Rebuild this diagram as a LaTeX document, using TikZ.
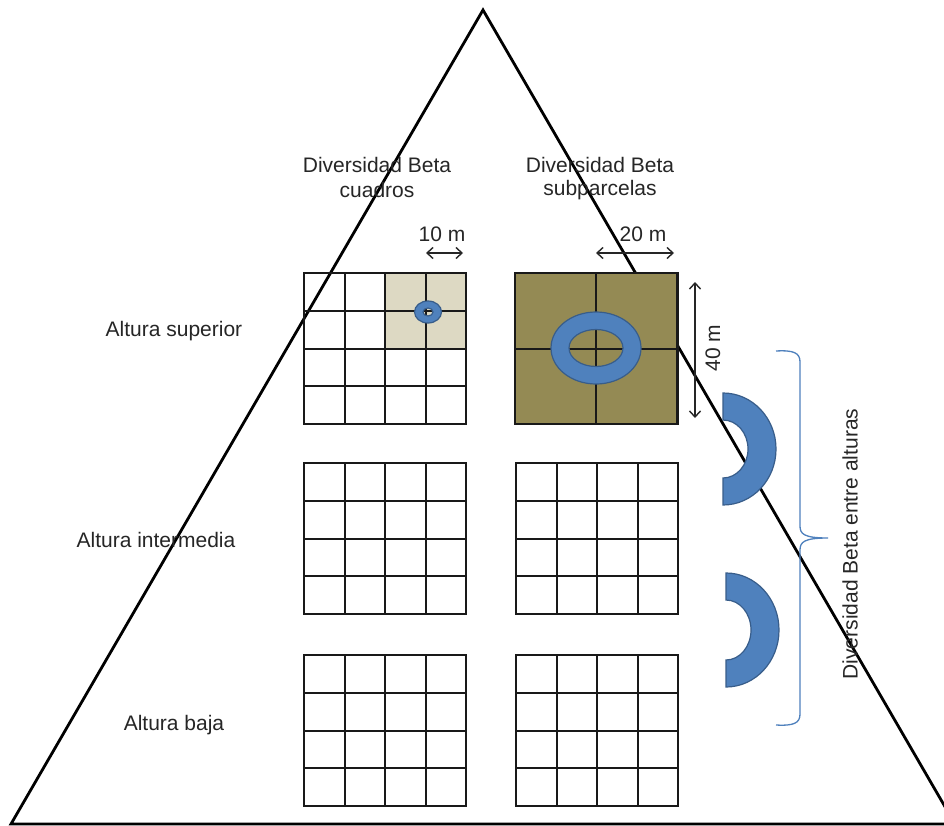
\documentclass[tikz,border=0pt]{standalone}
\usepackage{fontspec}
\setmainfont{Liberation Sans}
\usetikzlibrary{arrows.meta}
\definecolor{olive}{HTML}{948A54}
\definecolor{beige}{HTML}{DDD9C3}
\definecolor{ringblue}{HTML}{4F81BD}
\definecolor{ringedge}{HTML}{385D8A}
\tikzset{
  lbl/.style={font=\fontsize{21}{25}\selectfont, text=black!85, inner sep=0pt, align=center},
  gridline/.style={draw=black!90, line width=2},
  tri/.style={draw=black, line width=2.8, line join=miter},
  ring/.style={fill=ringblue, draw=ringedge, line width=1.2, even odd rule},
  dimarrow/.style={draw=black!85, line width=1.4, {Straight Barb[length=6pt,width=11pt]}-{Straight Barb[length=6pt,width=11pt]}},
  bracestyle/.style={draw=ringblue, line width=1.3}
}
\begin{document}
\begin{tikzpicture}[x=1pt,y=-1pt]
\clip (0,0) rectangle (944,826);
\fill[white] (0,0) rectangle (944,826);
% triangle
\draw[tri] (483,10) -- (11,824) -- (955,824) -- cycle;
% top-left grid with shaded quadrant
\fill[beige] (385,273) rectangle (466,348.5);
\foreach \y/\h in {273/424, 463/614, 655/806}{
  \draw[gridline] (304,\y) rectangle (466,\h);
  \draw[gridline] (516,\y) rectangle (678,\h);
}
% interior lines of 4x4 grids
\foreach \y/\h in {273/424, 463/614, 655/806}{
  \foreach \k in {1,2,3}{
    \draw[gridline] ({304+40.5*\k},\y) -- ({304+40.5*\k},\h);
    \draw[gridline] (304,{\y+(\h-\y)*\k/4}) -- (466,{\y+(\h-\y)*\k/4});
  }
}
\foreach \y/\h in {463/614, 655/806}{
  \foreach \k in {1,2,3}{
    \draw[gridline] ({516+40.5*\k},\y) -- ({516+40.5*\k},\h);
    \draw[gridline] (516,{\y+(\h-\y)*\k/4}) -- (678,{\y+(\h-\y)*\k/4});
  }
}
% olive subplot square
\fill[olive] (515,273) rectangle (677,424);
\draw[gridline] (515,273) rectangle (677,424);
\draw[gridline] (596,273) -- (596,424);
\draw[gridline] (515,348.5) -- (677,348.5);
% rings
\draw[ring] (596,348) ellipse[x radius=45, y radius=36] (596,348) ellipse[x radius=27, y radius=18.5];
\draw[ring] (428,312) ellipse[x radius=13.5, y radius=11] (428,312) ellipse[x radius=5, y radius=4];
% dimension arrows
\coordinate (a10l) at (426,253); \coordinate (a10r) at (463,253);
\coordinate (a20l) at (596,253); \coordinate (a20r) at (674,253);
\coordinate (a40t) at (695,282); \coordinate (a40b) at (695,418);
\draw[dimarrow] (a10l) -- (a10r);
\draw[dimarrow] (a20l) -- (a20r);
\draw[dimarrow] (a40t) -- (a40b);
\node[lbl] (t10) at (442,234) {10 m};
\node[lbl] (t20) at (643,234) {20 m};
\node[lbl, rotate=90] (t40) at (713,348) {40 m};
% column headers
\node[lbl] (hc1) at (377,165) {Diversidad Beta};
\node[lbl] (hc2) at (377,190) {cuadros};
\node[lbl] (hs1) at (600,165) {Diversidad Beta};
\node[lbl] (hs2) at (600,190) {subparcelas};
% row labels
\node[lbl] (rs) at (174,331) {Altura superior};
\node[lbl] (ri) at (156,540) {Altura intermedia};
\node[lbl] (rb) at (174,725) {Altura baja};
% half rings
\draw[ring] (723,393) arc[start angle=-90, end angle=90, x radius=53, y radius=56] -- (723,478) arc[start angle=90, end angle=-90, x radius=25, y radius=29] -- cycle;
\draw[ring] (726,573) arc[start angle=-90, end angle=90, x radius=53, y radius=57] -- (726,660) arc[start angle=90, end angle=-90, x radius=25, y radius=30] -- cycle;
% brace
\draw[bracestyle] (776,351) .. controls (794,350) and (800,353) .. (800,362) -- (800,526) .. controls (800,534) and (804,538) .. (828,538) .. controls (804,538) and (800,542) .. (800,550) -- (800,714) .. controls (800,723) and (794,726) .. (776,725);
\node[lbl, rotate=90] (tb) at (850,544) {Diversidad Beta entre alturas};
\end{tikzpicture}
\end{document}
